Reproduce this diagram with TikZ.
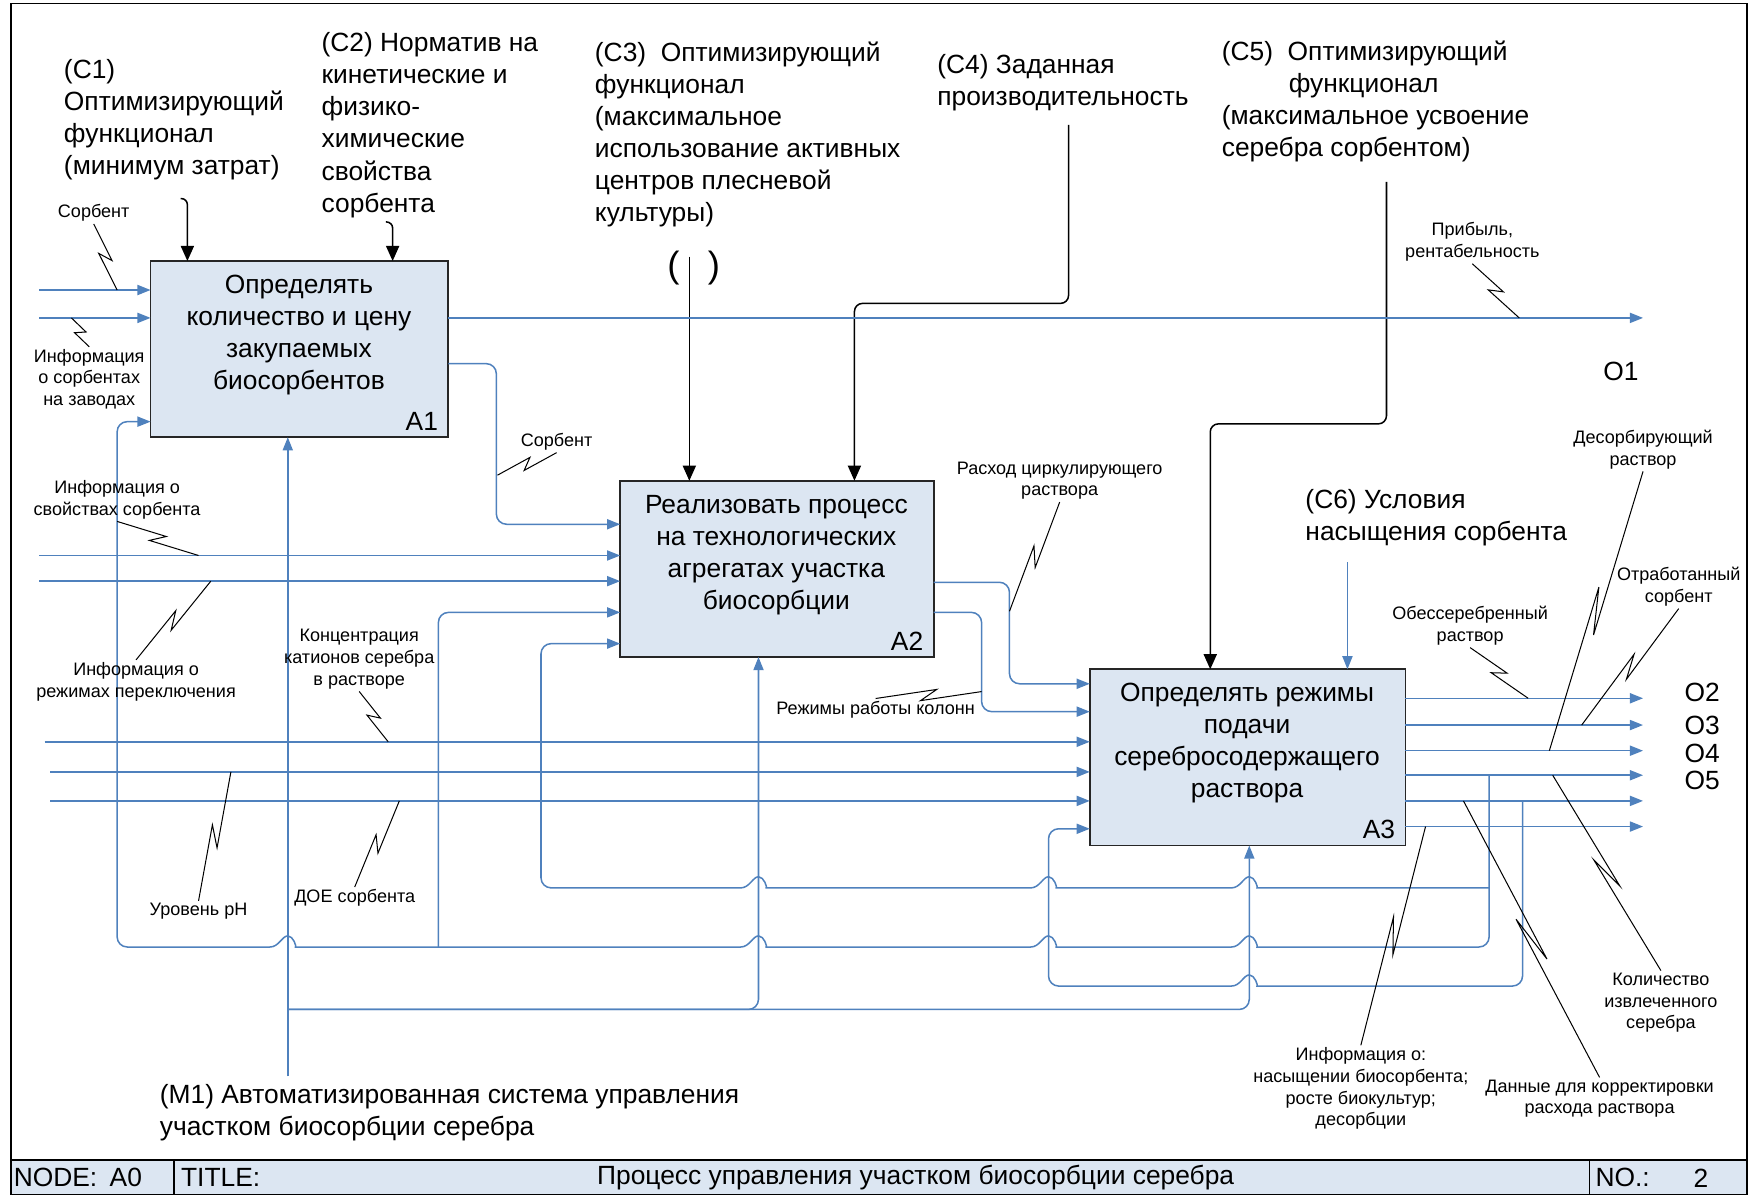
\documentclass[tikz,border=0pt]{standalone}
\usepackage{fontspec}
\setmainfont{Liberation Sans}
\usetikzlibrary{arrows.meta,calc}

\definecolor{flowBlue}{RGB}{79,129,189}
\definecolor{boxFill}{RGB}{220,230,242}

\begin{document}
\begin{tikzpicture}
[x=0.55pt,y=-0.55pt,%
  boxDecorate/.style={draw=black!85,line width=0.9pt,fill=boxFill,inner sep=0pt,outer sep=0pt,minimum height=86.9pt},%
  boxText/.style={font=\fontsize{13}{15.8}\selectfont,align=center,inner sep=0pt},%
  bigText/.style={font=\fontsize{13}{15.8}\selectfont,align=left,inner sep=0pt,anchor=north west},%
  noteText/.style={font=\fontsize{8.9}{10.7}\selectfont,align=center,inner sep=1pt},%
  flowDecorate/.style={draw=flowBlue,line width=0.75pt,rounded corners=5pt,-{Triangle[length=6.5pt,width=5pt]}},%
  ctrlDecorate/.style={draw=black,line width=0.75pt,rounded corners=4pt,-{Triangle[length=7.5pt,width=6.5pt]}},%
  tildeDecorate/.style={draw=black,line width=0.5pt}]
\useasboundingbox (0,0) rectangle (1568,1073);

%% frame and title bar
\draw[line width=0.8pt] (10,3) rectangle (1566,1071);
\draw[line width=0.8pt,fill=boxFill] (10,1040) rectangle (1566,1071);
\draw[line width=0.8pt] (156,1040) -- (156,1071) (1425,1040) -- (1425,1071);
\foreach \name/\x/\txt in {tNode/12/NODE:, tA0/98/A0, tTitle/162/TITLE:,
  tName/535/Процесс управления участком биосорбции серебра, tNo/1430/NO.:, tNum/1518/2}
{
  \node[bigText,anchor=west] (\name) at (\x,1056) {\txt};
}

%% function boxes
\node[boxDecorate,minimum width=146.85pt] (A1) at (268.5,313) {};
\node[boxDecorate,minimum width=154.55pt] (A2) at (696.5,510) {};
\node[boxDecorate,minimum width=155.65pt] (A3) at (1118.5,679) {};
\node[boxText] (A1t) at (268,300.5) {Определять\\количество и цену\\закупаемых\\биосорбентов};
\node[boxText] (A2t) at (696,497.5) {Реализовать процесс\\на технологических\\агрегатах участка\\биосорбции};
\node[boxText] (A3t) at (1118,666) {Определять режимы\\подачи\\серебросодержащего\\раствора};
\foreach \b in {A1,A2,A3}
  \node[boxText,anchor=base east] (n\b) at ($(\b.south east)+(-9,-6)$) {\b};

%% controls
\coordinate (c1) at (162,178);
\coordinate (c2) at (346,199);
\coordinate (c3) at (618,230);
\coordinate (c4) at (958,112);
\coordinate (c5) at (1243,163);
\coordinate (c6) at (1208,504);
\draw[ctrlDecorate,rounded corners=3pt] (c1) -| (A1.north -| 168,0);
\draw[ctrlDecorate,rounded corners=3pt] (c2) -| (A1.north -| 352,0);
\draw[ctrlDecorate] (c3) -- (c3 |- A2.north);
\draw[ctrlDecorate] (c4) |- (766,272) -- (A2.north -| 766,0);
\draw[ctrlDecorate] (c5) |- (1085,380) -- (A3.north -| 1085,0);
\draw[flowDecorate] (c6) -- (c6 |- A3.north);

%% inputs from the left
\foreach \name/\x/\y/\b in {i1/35/260/A1, i2/35/285/A1, i3/35/498/A2, i4/35/521/A2,
  i5/40/665/A3, i6/45/692/A3, i7/45/718/A3}
{
  \coordinate (\name) at (\x,\y);
  \draw[flowDecorate] (\name) -- (\name -| \b.west);
}

%% outputs
\coordinate (o1) at (1473,285);
\draw[flowDecorate] (A1.east |- o1) -- (o1);
\foreach \name/\y in {o2/626, o3/650, o4/673, o5/695, o6/718, o7/741}
{
  \coordinate (\name) at (1473,\y);
  \draw[flowDecorate] (A3.east |- \name) -- (\name);
}

%% links between boxes
\draw[flowDecorate] (A1.east |- 0,326) -| (445,470) -- (A2.west |- 0,470);
\draw[flowDecorate] (A2.east |- 0,522) -| (905,613) -- (A3.west |- 0,613);
\draw[flowDecorate] (A2.east |- 0,549) -| (880,638) -- (A3.west |- 0,638);

%% feedback loops, jumping over the verticals
\draw[flowDecorate] (o5 -| 1335,0) -- (1335,849)
  \foreach \jx in {1120,940,680,258} {-- (\jx+16,849) [sharp corners] .. controls (\jx+8,849) and (\jx+5,839) .. (\jx,839)
    .. controls (\jx-5,839) and (\jx-8,849) .. (\jx-16,849) [rounded corners=5pt]}
  -- (105,849) |- (A1.west |- 0,378);
\draw[flowDecorate] (1335,796)
  \foreach \jx in {1120,940,680} {-- (\jx+16,796) [sharp corners] .. controls (\jx+8,796) and (\jx+5,786) .. (\jx,786)
    .. controls (\jx-5,786) and (\jx-8,796) .. (\jx-16,796) [rounded corners=5pt]}
  -- (485,796) |- (A2.west |- 0,577);
\draw[flowDecorate] (393,849) |- (A2.west |- 0,549);
\draw[flowDecorate] (o6 -| 1365,0) -- (1365,884)
  \foreach \jx in {1120} {-- (\jx+16,884) [sharp corners] .. controls (\jx+8,884) and (\jx+5,874) .. (\jx,874)
    .. controls (\jx-5,874) and (\jx-8,884) .. (\jx-16,884) [rounded corners=5pt]}
  -- (940,884) |- (A3.west |- 0,743);

%% mechanism
\coordinate (m1) at (258,965);
\draw[flowDecorate] (m1) -- (m1 |- A1.south);
\draw[flowDecorate] (m1 |- 0,905) -| (A2.south -| 680,0);
\draw[flowDecorate] (m1 |- 0,905) -| (A3.south -| 1120,0);

%% control and mechanism texts
\node[bigText] (tC1) at (57,53) {(C1)\\Оптимизирующий\\функционал\\(минимум затрат)};
\node[bigText] (tC2) at (288,29) {(C2) Норматив на\\кинетические и\\физико-\\химические\\свойства\\сорбента};
\node[bigText] (tC3) at (533,37) {(C3)\ \ Оптимизирующий\\функционал\\(максимальное\\использование активных\\центров плесневой\\культуры)};
\node[font=\fontsize{18}{20}\selectfont,inner sep=0pt] (tC3p) at (622,240) {(\hspace{14pt})};
\node[bigText] (tC4) at (840,48) {(C4) Заданная\\производительность};
\node[bigText] (tC5) at (1095,36) {(C5)\ \ Оптимизирующий\\\hspace*{33pt}функционал\\(максимальное усвоение\\серебра сорбентом)};
\node[bigText] (tC6) at (1170,438) {(C6) Условия\\насыщения сорбента};
\node[bigText] (tM1) at (143,972) {(M1) Автоматизированная система управления\\участком биосорбции серебра};
\node[bigText,anchor=west] (tO1) at (1437,333) {O1};
\foreach \name/\y/\txt in {tO2/621/O2, tO3/650/O3, tO4/675/O4, tO5/700/O5}
  \node[bigText,anchor=west] (\name) at (1510,\y) {\txt};

%% arrow labels
\node[noteText] (lSorbA) at (84,191) {Сорбент};
\node[noteText] (lInfoZav) at (80,340) {Информация\\о сорбентах\\на заводах};
\node[noteText] (lInfoSv) at (105,448) {Информация о\\свойствах сорбента};
\node[noteText] (lInfoRez) at (122,611) {Информация о\\режимах переключения};
\node[noteText] (lSorbB) at (499,396) {Сорбент};
\node[noteText] (lKonc) at (322,591) {Концентрация\\катионов серебра\\в растворе};
\node[noteText] (lPh) at (178,817) {Уровень pH};
\node[noteText] (lDoe) at (318,805) {ДОЕ сорбента};
\node[noteText] (lRash) at (950,431) {Расход циркулирующего\\раствора};
\node[noteText] (lRezh) at (785,636) {Режимы работы колонн};
\node[noteText] (lPrib) at (1320,217) {Прибыль,\\рентабельность};
\node[noteText] (lDesorb) at (1473,403) {Десорбирующий\\раствор};
\node[noteText] (lOtrab) at (1505,526) {Отработанный\\сорбент};
\node[noteText] (lObess) at (1318,561) {Обессеребренный\\раствор};
\node[noteText] (lKol) at (1489,899) {Количество\\извлеченного\\серебра};
\node[noteText] (lDan) at (1434,985) {Данные для корректировки\\расхода раствора};
\node[noteText] (lInfoNas) at (1220,976) {Информация о:\\насыщении биосорбента;\\росте биокультур;\\десорбции};

%% tilde connectors from labels to arrows
\foreach \lab/\pt in {lSorbA.south/{105,260}, lInfoZav.north/{64,285}, lInfoSv.south/{178,498},
  lInfoRez.north/{189,521}, lSorbB.south/{446,426}, lKonc.south/{348,665}, lPh.north/{207,692},
  lDoe.north/{358,718}, lRash.south/{905,548}, lRezh.north/{880,620}, lPrib.south/{1362,285},
  lDesorb.south/{1389,673}, lOtrab.south/{1418,650}, lObess.south/{1370,626}, lKol.north/{1392,695},
  lDan.north/{1312,718}, lInfoNas.north/{1278,741}}
{
  \draw[tildeDecorate] (\lab) -- ($(\lab)!0.58!(\pt)!2.5pt!90:(\pt)$)
    -- ($(\lab)!0.42!(\pt)!2.5pt!-90:(\pt)$) -- (\pt);
}
\end{tikzpicture}
\end{document}
